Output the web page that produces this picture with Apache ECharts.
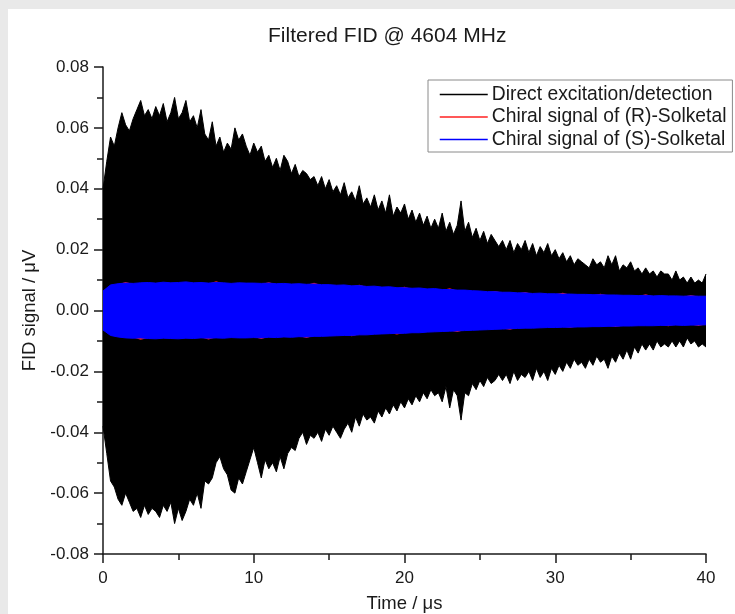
<!DOCTYPE html>
<html><head><meta charset="utf-8">
<script src="https://cdn.jsdelivr.net/npm/echarts@6/dist/echarts.min.js"></script>
<style>html,body{margin:0;padding:0;background:#e9e9e9}#c{width:735px;height:614px}</style>
</head><body><div id="c"></div>
<script>
const chartTitle = 'Filtered FID @ 4604 MHz';
const xName = 'Time / \u03bcs';
const yName = 'FID signal / \u03bcV';
const seriesNames = ['Direct excitation/detection', 'Chiral signal of (R)-Solketal', 'Chiral signal of (S)-Solketal'];
const xTicks = [0, 10, 20, 30, 40];
const yTicks = [-0.08, -0.06, -0.04, -0.02, 0.00, 0.02, 0.04, 0.06, 0.08];

// Envelope of the direct FID (peak values), sampled every 0.25 us
const directStep = 0.25;
const directUpper = [
0.040,0.049,0.057,0.054,0.060,0.065,0.061,0.059,0.063,
0.066,0.069,0.064,0.066,0.063,0.067,0.064,0.068,
0.062,0.065,0.070,0.063,0.065,0.069,0.062,0.064,
0.060,0.066,0.058,0.056,0.062,0.054,0.057,0.052,
0.055,0.053,0.060,0.056,0.058,0.054,0.051,0.055,
0.052,0.054,0.049,0.051,0.047,0.050,0.046,0.051,
0.049,0.045,0.048,0.044,0.046,0.045,0.043,0.044,
0.041,0.044,0.040,0.043,0.039,0.041,0.038,0.042,
0.037,0.039,0.036,0.041,0.035,0.037,0.034,0.038,
0.033,0.036,0.032,0.038,0.031,0.034,0.032,0.035,
0.030,0.033,0.029,0.032,0.028,0.031,0.027,0.030,
0.027,0.032,0.026,0.029,0.025,0.028,0.036,0.026,
0.029,0.024,0.027,0.023,0.026,0.022,0.025,0.023,
0.021,0.023,0.020,0.023,0.019,0.022,0.020,0.023,
0.019,0.022,0.018,0.021,0.019,0.022,0.018,0.020,
0.017,0.019,0.016,0.018,0.015,0.017,0.016,0.015,
0.014,0.017,0.015,0.016,0.014,0.018,0.015,0.018,
0.013,0.015,0.014,0.016,0.013,0.014,0.012,0.014,
0.012,0.013,0.011,0.013,0.012,0.012,0.010,0.013,
0.010,0.011,0.009,0.011,0.009,0.010,0.009,0.012
];
const directLower = [
-0.038,-0.047,-0.056,-0.058,-0.062,-0.064,-0.060,-0.063,-0.066,
-0.065,-0.068,-0.064,-0.067,-0.065,-0.066,-0.068,-0.064,
-0.066,-0.063,-0.070,-0.065,-0.069,-0.066,-0.062,-0.064,
-0.060,-0.065,-0.056,-0.057,-0.055,-0.050,-0.048,-0.052,
-0.054,-0.059,-0.060,-0.055,-0.057,-0.053,-0.049,-0.045,
-0.050,-0.055,-0.049,-0.052,-0.050,-0.053,-0.048,-0.052,
-0.047,-0.045,-0.046,-0.042,-0.040,-0.044,-0.041,-0.042,
-0.040,-0.043,-0.039,-0.041,-0.038,-0.040,-0.042,-0.039,
-0.037,-0.040,-0.035,-0.038,-0.034,-0.036,-0.035,-0.037,
-0.033,-0.035,-0.032,-0.034,-0.031,-0.033,-0.030,-0.032,
-0.029,-0.031,-0.028,-0.030,-0.027,-0.029,-0.026,-0.028,
-0.027,-0.030,-0.025,-0.032,-0.026,-0.028,-0.036,-0.027,
-0.028,-0.024,-0.026,-0.023,-0.025,-0.022,-0.024,-0.023,
-0.021,-0.023,-0.021,-0.024,-0.020,-0.023,-0.021,-0.022,
-0.020,-0.023,-0.019,-0.022,-0.020,-0.023,-0.019,-0.021,
-0.018,-0.020,-0.017,-0.019,-0.016,-0.018,-0.017,-0.019,
-0.016,-0.018,-0.015,-0.017,-0.016,-0.019,-0.015,-0.017,
-0.014,-0.016,-0.013,-0.016,-0.012,-0.014,-0.011,-0.013,
-0.011,-0.013,-0.010,-0.012,-0.011,-0.012,-0.010,-0.012,
-0.010,-0.012,-0.009,-0.011,-0.010,-0.012,-0.011,-0.012
];

// Envelopes of the chiral signals, sampled every 0.5 us
const chiralStep = 0.5;
const sUpper = [
0.0064,0.0084,0.0088,0.0090,0.0089,0.0091,0.0092,0.0090,0.0093,0.0091,
0.0092,0.0094,0.0091,0.0092,0.0090,0.0092,0.0091,0.0089,0.0091,0.0090,
0.0090,0.0089,0.0090,0.0088,0.0089,0.0087,0.0088,0.0086,0.0087,0.0085,
0.0085,0.0083,0.0084,0.0081,0.0082,0.0079,0.0080,0.0077,0.0078,0.0075,
0.0075,0.0073,0.0074,0.0071,0.0072,0.0069,0.0069,0.0067,0.0067,0.0065,
0.0064,0.0062,0.0062,0.0060,0.0060,0.0058,0.0058,0.0056,0.0057,0.0055,
0.0055,0.0054,0.0054,0.0053,0.0053,0.0052,0.0052,0.0051,0.0051,0.0050,
0.0050,0.0049,0.0050,0.0048,0.0049,0.0048,0.0048,0.0047,0.0048,0.0047,
0.0047
];
const sLower = [
-0.0064,-0.0082,-0.0087,-0.0090,-0.0091,-0.0090,-0.0092,-0.0093,-0.0091,-0.0092,
-0.0093,-0.0091,-0.0092,-0.0090,-0.0091,-0.0090,-0.0091,-0.0089,-0.0090,-0.0090,
-0.0089,-0.0090,-0.0088,-0.0089,-0.0087,-0.0088,-0.0086,-0.0087,-0.0085,-0.0085,
-0.0084,-0.0083,-0.0082,-0.0082,-0.0080,-0.0080,-0.0078,-0.0077,-0.0076,-0.0075,
-0.0075,-0.0073,-0.0073,-0.0071,-0.0070,-0.0069,-0.0068,-0.0067,-0.0066,-0.0065,
-0.0064,-0.0063,-0.0062,-0.0061,-0.0060,-0.0059,-0.0058,-0.0058,-0.0057,-0.0056,
-0.0056,-0.0055,-0.0055,-0.0054,-0.0054,-0.0053,-0.0053,-0.0052,-0.0052,-0.0051,
-0.0051,-0.0050,-0.0050,-0.0050,-0.0049,-0.0049,-0.0048,-0.0049,-0.0048,-0.0048,
-0.0047
];
const rUpper = [
0.0062,0.0082,0.0086,0.0094,0.0087,0.0089,0.0090,0.0088,0.0091,0.0089,
0.0090,0.0092,0.0089,0.0090,0.0088,0.0096,0.0089,0.0087,0.0089,0.0088,
0.0088,0.0087,0.0093,0.0086,0.0087,0.0085,0.0086,0.0084,0.0091,0.0083,
0.0083,0.0081,0.0082,0.0079,0.0085,0.0077,0.0078,0.0075,0.0076,0.0073,
0.0078,0.0071,0.0072,0.0069,0.0070,0.0067,0.0073,0.0065,0.0065,0.0063,
0.0062,0.0060,0.0064,0.0058,0.0058,0.0056,0.0061,0.0054,0.0055,0.0053,
0.0053,0.0058,0.0052,0.0051,0.0051,0.0050,0.0055,0.0049,0.0049,0.0048,
0.0048,0.0047,0.0053,0.0046,0.0047,0.0046,0.0046,0.0045,0.0051,0.0045,
0.0045
];
const rLower = [
-0.0062,-0.0080,-0.0085,-0.0088,-0.0089,-0.0096,-0.0090,-0.0091,-0.0089,-0.0090,
-0.0091,-0.0089,-0.0090,-0.0088,-0.0095,-0.0088,-0.0089,-0.0087,-0.0088,-0.0088,
-0.0087,-0.0094,-0.0086,-0.0087,-0.0085,-0.0086,-0.0084,-0.0090,-0.0083,-0.0083,
-0.0082,-0.0081,-0.0080,-0.0085,-0.0078,-0.0078,-0.0076,-0.0075,-0.0074,-0.0079,
-0.0073,-0.0071,-0.0071,-0.0069,-0.0068,-0.0067,-0.0066,-0.0071,-0.0064,-0.0063,
-0.0062,-0.0061,-0.0060,-0.0059,-0.0063,-0.0057,-0.0056,-0.0056,-0.0055,-0.0054,
-0.0054,-0.0053,-0.0057,-0.0052,-0.0052,-0.0051,-0.0051,-0.0050,-0.0054,-0.0049,
-0.0049,-0.0048,-0.0048,-0.0048,-0.0047,-0.0052,-0.0046,-0.0047,-0.0046,-0.0051,
-0.0045
];

const colors = ['#000000', '#ff2020', '#0000ff'];

function pairs(vals, step) { return vals.map((v, i) => [i * step, v]); }

// each half-envelope is filled from slightly past the zero line so the two halves overlap
function envSeries(name, vals, step, color, lw, origin) {
  return {
    name: name, type: 'line', data: pairs(vals, step),
    symbol: 'none', showSymbol: false, animation: false,
    lineStyle: { color: color, width: lw },
    itemStyle: { color: color },
    areaStyle: { color: color, opacity: 1, origin: origin },
    emphasis: { disabled: true }
  };
}

const chart = echarts.init(document.getElementById('c'), null, { renderer: 'canvas' });
const font = 'Liberation Sans, Arial, sans-serif';
const ink = '#1a1a1a';
chart.setOption({
  backgroundColor: '#e9e9e9',
  animation: false,
  textStyle: { fontFamily: font },
  graphic: [{ type: 'rect', z: -10, silent: true, shape: { x: 8, y: 9, width: 735, height: 614 }, style: { fill: '#ffffff' } }],
  title: { text: chartTitle, left: 263, top: 21, textStyle: { fontSize: 21, fontWeight: 'normal', color: ink, fontFamily: font } },
  legend: {
    data: seriesNames, orient: 'vertical', left: 428, top: 80,
    backgroundColor: '#ffffff', borderColor: '#8a8a8a', borderWidth: 1, borderRadius: 0,
    padding: [5, 6, 3, 11], itemGap: 3.5, itemWidth: 48, itemHeight: 19,
    itemStyle: { opacity: 0, color: 'transparent', borderColor: 'transparent', borderWidth: 0 },
    lineStyle: { width: 1.5 },
    textStyle: { fontSize: 19.3, color: ink, fontFamily: font, padding: [0, 0, 0, -1] },
    selectedMode: false
  },
  grid: { left: 103, right: 29, top: 67, bottom: 60, containLabel: false, outerBoundsMode: 'none' },
  xAxis: {
    type: 'value', min: xTicks[0], max: xTicks[xTicks.length - 1], interval: 10,
    name: xName, nameLocation: 'middle', nameGap: 40,
    nameTextStyle: { fontSize: 18.5, color: ink, fontFamily: font },
    axisLine: { show: true, onZero: false, lineStyle: { color: ink, width: 1.5 } },
    axisTick: { show: true, length: 9, lineStyle: { color: ink, width: 1.5 } },
    minorTick: { show: true, splitNumber: 2, length: 6, lineStyle: { color: ink, width: 1.5 } },
    axisLabel: { fontSize: 17, color: ink, margin: 16, fontFamily: font },
    splitLine: { show: false }
  },
  yAxis: {
    type: 'value', min: yTicks[0], max: yTicks[yTicks.length - 1], interval: 0.02,
    name: yName, nameLocation: 'middle', nameGap: 64,
    nameTextStyle: { fontSize: 18.5, color: ink, fontFamily: font },
    axisLine: { show: true, onZero: false, lineStyle: { color: ink, width: 1.5 } },
    axisTick: { show: true, length: 9, lineStyle: { color: ink, width: 1.5 } },
    minorTick: { show: true, splitNumber: 2, length: 6, lineStyle: { color: ink, width: 1.5 } },
    axisLabel: { fontSize: 17, color: ink, margin: 14, fontFamily: font, formatter: v => v.toFixed(2) },
    splitLine: { show: false }
  },
  series: [
    envSeries(seriesNames[0], directUpper, directStep, colors[0], 1, -0.004),
    envSeries(seriesNames[0], directLower, directStep, colors[0], 1, 0.004),
    envSeries(seriesNames[1], rUpper, chiralStep, colors[1], 0, -0.001),
    envSeries(seriesNames[1], rLower, chiralStep, colors[1], 0, 0.001),
    envSeries(seriesNames[2], sUpper, chiralStep, colors[2], 1, -0.001),
    envSeries(seriesNames[2], sLower, chiralStep, colors[2], 1, 0.001)
  ]
});
</script></body></html>
